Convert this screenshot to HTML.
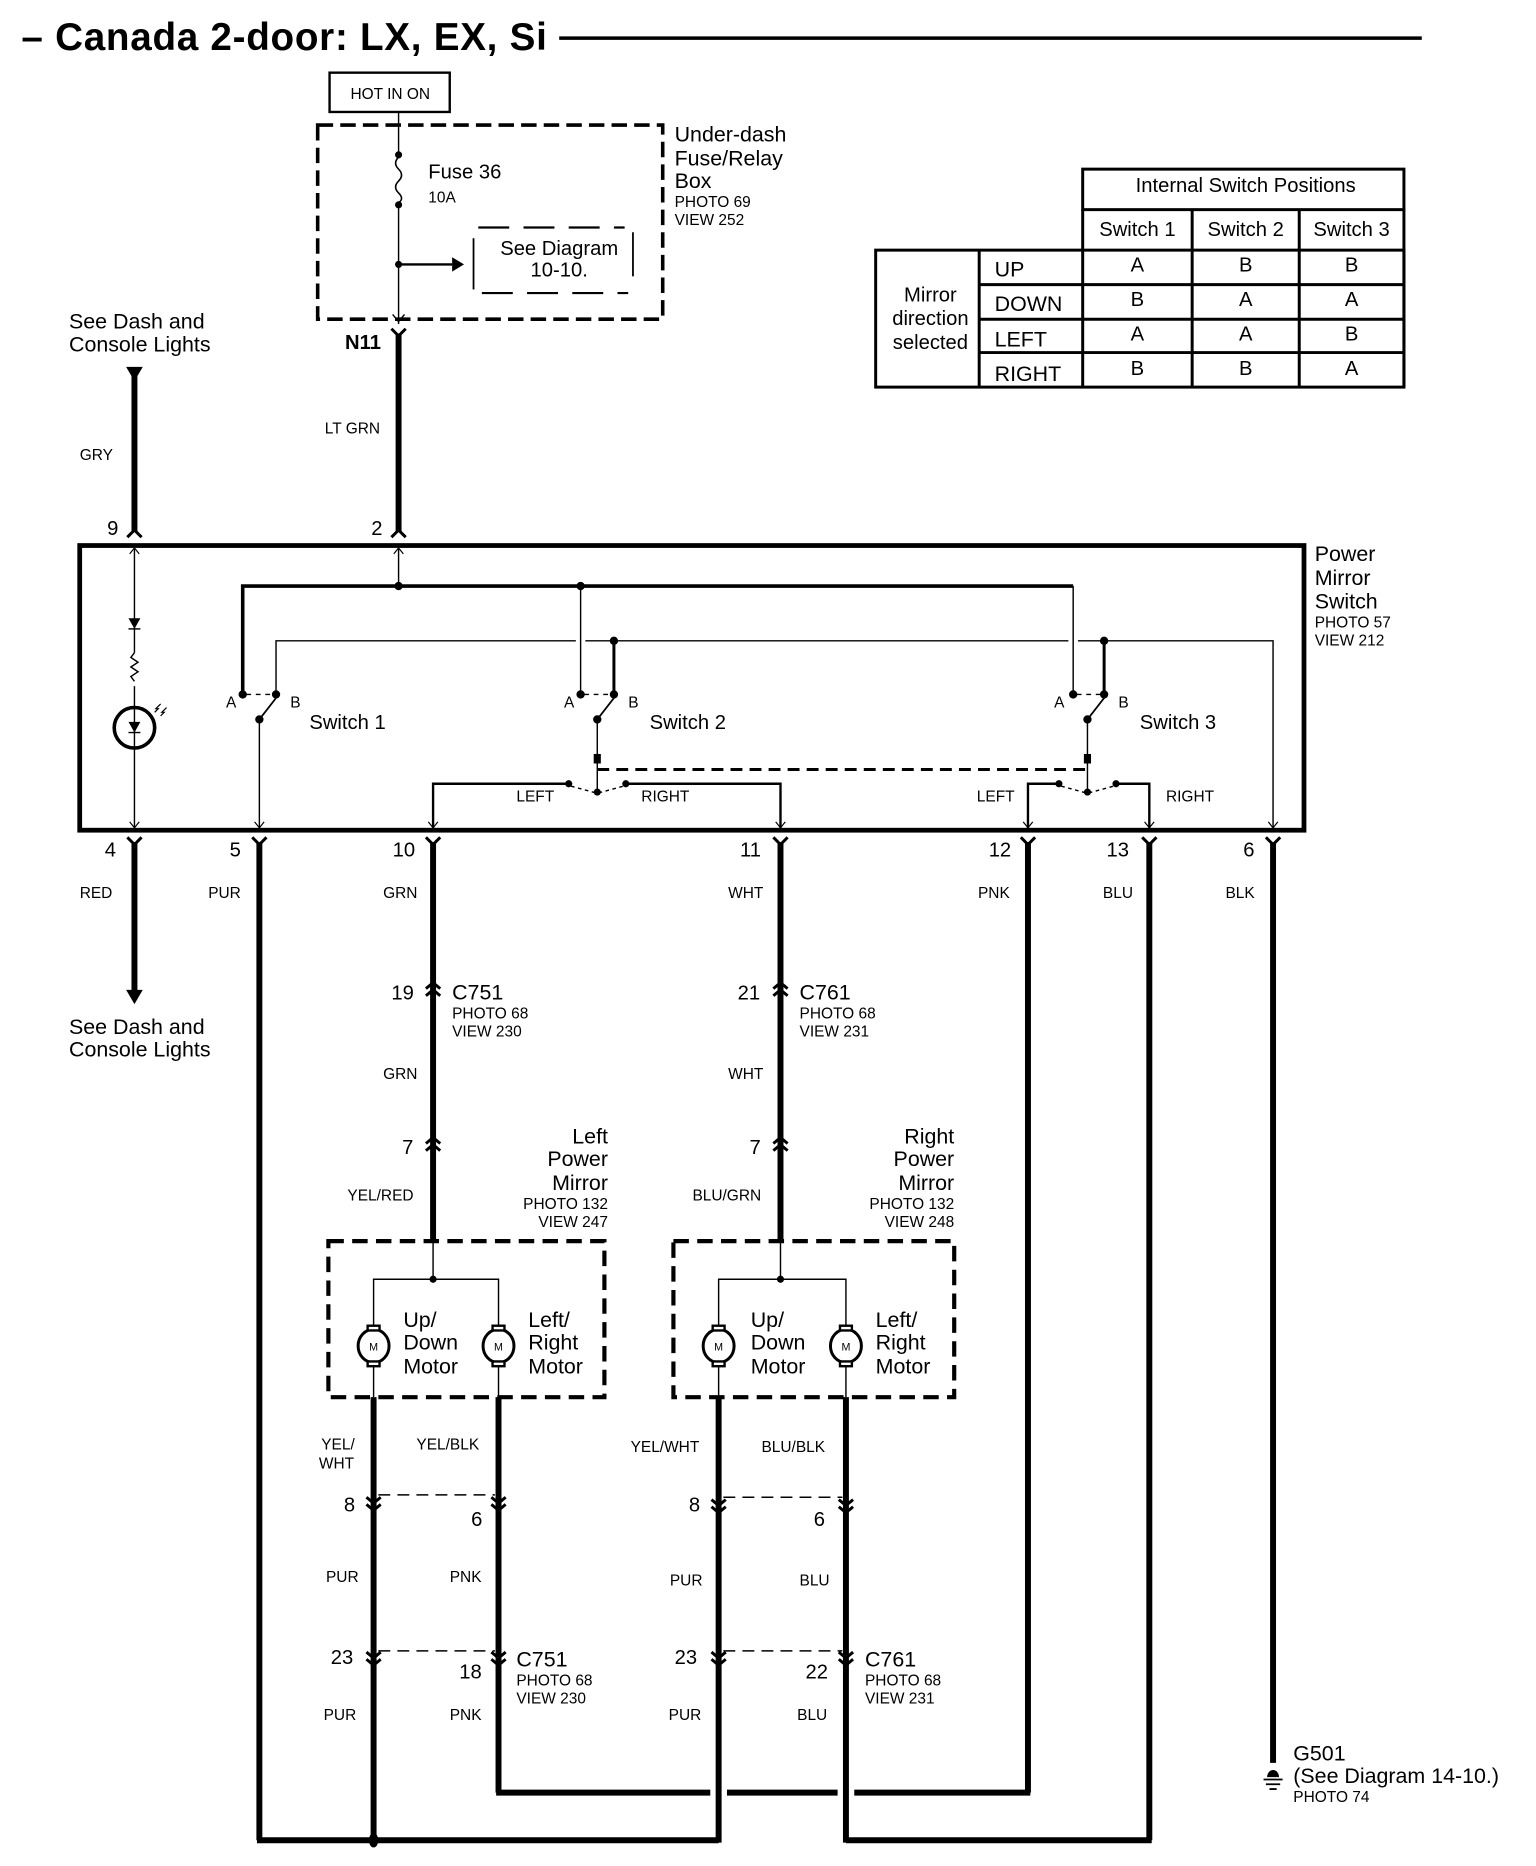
<!DOCTYPE html>
<html><head><meta charset="utf-8"><style>
html,body{margin:0;padding:0;background:#fff;}
svg{display:block;}
text{font-family:"Liberation Sans",Arial,sans-serif;fill:#000;}
.s13{font-size:13px;}
.s17{font-size:17px;}
.s18{font-size:18px;}
</style></head><body>
<svg width="1536" height="1866" viewBox="0 0 1291 1566.6" preserveAspectRatio="none" xmlns="http://www.w3.org/2000/svg">
<g fill="none" stroke="#000" stroke-linecap="butt">
<line x1="470" y1="32" x2="1195" y2="32" stroke-width="3"/>
<rect x="277" y="61" width="101" height="33" stroke-width="2"/>
<rect x="267" y="105" width="290" height="163" stroke-width="3" stroke-dasharray="13,6"/>
<line x1="335" y1="94" x2="335" y2="130" stroke-width="1.2"/>
<path d="M335,132 q-5,5 0,10 q5,5 0,10 q-5,5 0,10 q5,5 0,8" stroke-width="1.3"/>
<line x1="335" y1="172" x2="335" y2="272" stroke-width="1.2"/>
<line x1="335" y1="222" x2="380" y2="222" stroke-width="2"/>
<line x1="398" y1="200" x2="398" y2="243" stroke-width="1.5"/>
<line x1="532" y1="195" x2="532" y2="232" stroke-width="1.5"/>
<line x1="402" y1="191" x2="525" y2="191" stroke-width="1.8" stroke-dasharray="26,12"/>
<line x1="405" y1="246" x2="528" y2="246" stroke-width="1.8" stroke-dasharray="26,12"/>
<path d="M330,264 L335,270 L340,264" stroke-width="1.2"/>
<path d="M329,276 L335,282 L341,276" stroke-width="2.5"/>
<line x1="335" y1="280" x2="335" y2="446" stroke-width="5"/>
<path d="M329,451 L335,445 L341,451" stroke-width="2.5"/>
<line x1="113" y1="315" x2="113" y2="446" stroke-width="5"/>
<path d="M107,451 L113,445 L119,451" stroke-width="2.5"/>
<rect x="67" y="458" width="1029" height="239" stroke-width="4"/>
<line x1="113" y1="460" x2="113" y2="548" stroke-width="1.2"/>
<path d="M109,465 L113,460 L117,465" stroke-width="1"/>
<line x1="113" y1="576" x2="113" y2="695" stroke-width="1.2"/>
<path d="M109,690 L113,695 L117,690" stroke-width="1"/>
<path d="M113,548 l-3,4 l6,4 l-6,4 l6,4 l-6,4 l3,4" stroke-width="1.2"/>
<line x1="108" y1="528" x2="118" y2="528" stroke-width="1.2"/>
<circle cx="113" cy="611" r="17" stroke-width="3"/>
<line x1="108" y1="615" x2="118" y2="615" stroke-width="1.2"/>
<path d="M130,598 l3,-3 l-2,0 l4,-4 M135,601 l3,-3 l-2,0 l4,-4" stroke-width="1"/>
<line x1="335" y1="460" x2="335" y2="492" stroke-width="1.2"/>
<path d="M331,465 L335,460 L339,465" stroke-width="1"/>
<path d="M204,583 L204,492 L902,492" stroke-width="3"/>
<line x1="902" y1="492" x2="902" y2="583" stroke-width="1.2"/>
<line x1="488" y1="492" x2="488" y2="583" stroke-width="1.2"/>
<path d="M232,583 L232,538 L484,538" stroke-width="1.2"/>
<path d="M492,538 L898,538" stroke-width="1.2"/>
<path d="M906,538 L1070,538 L1070,695" stroke-width="1.2"/>
<path d="M1066,690 L1070,695 L1074,690" stroke-width="1"/>
<line x1="516" y1="538" x2="516" y2="583" stroke-width="2.5"/>
<line x1="928" y1="538" x2="928" y2="583" stroke-width="2.5"/>
<line x1="207" y1="583" x2="229" y2="583" stroke-width="1.2" stroke-dasharray="4,4"/>
<line x1="218" y1="604" x2="232" y2="586" stroke-width="1.5"/>
<line x1="218" y1="604" x2="218" y2="695" stroke-width="1.2"/>
<path d="M214,690 L218,695 L222,690" stroke-width="1"/>
<line x1="491" y1="583" x2="513" y2="583" stroke-width="1.2" stroke-dasharray="4,4"/>
<line x1="502" y1="604" x2="516" y2="586" stroke-width="1.5"/>
<line x1="502" y1="604" x2="502" y2="664" stroke-width="1.2"/>
<line x1="502" y1="646" x2="914" y2="646" stroke-width="2.5" stroke-dasharray="10,6"/>
<path d="M478,658 L364,658 L364,695" stroke-width="2"/>
<path d="M360,690 L364,695 L368,690" stroke-width="1"/>
<path d="M526,658 L656,658 L656,695" stroke-width="2"/>
<path d="M652,690 L656,695 L660,690" stroke-width="1"/>
<path d="M480,660 L502,666 L524,660" stroke-width="1.2" stroke-dasharray="3,3"/>
<line x1="905" y1="583" x2="925" y2="583" stroke-width="1.2" stroke-dasharray="4,4"/>
<line x1="914" y1="604" x2="928" y2="586" stroke-width="1.5"/>
<line x1="914" y1="604" x2="914" y2="664" stroke-width="1.2"/>
<path d="M890,658 L864,658 L864,695" stroke-width="2"/>
<path d="M860,690 L864,695 L868,690" stroke-width="1"/>
<path d="M938,658 L966,658 L966,695" stroke-width="2"/>
<path d="M962,690 L966,695 L970,690" stroke-width="1"/>
<path d="M892,660 L914,666 L936,660" stroke-width="1.2" stroke-dasharray="3,3"/>
<g stroke-width="2.5">
<path d="M107,703 L113,709 L119,703"/>
<path d="M212,703 L218,709 L224,703"/>
<path d="M358,703 L364,709 L370,703"/>
<path d="M650,703 L656,709 L662,703"/>
<path d="M858,703 L864,709 L870,703"/>
<path d="M960,703 L966,709 L972,703"/>
<path d="M1064,703 L1070,709 L1076,703"/>
</g>
<g stroke-width="5">
<line x1="113" y1="707" x2="113" y2="832"/>
<line x1="218" y1="707" x2="218" y2="1545"/>
<line x1="364" y1="707" x2="364" y2="1042"/>
<line x1="656" y1="707" x2="656" y2="1042"/>
<line x1="864" y1="707" x2="864" y2="1505"/>
<line x1="966" y1="707" x2="966" y2="1545"/>
<line x1="1070" y1="707" x2="1070" y2="1480"/>
<path d="M216,1545 L604,1545"/>
<path d="M711,1545 L968,1545"/>
<path d="M417,1505 L597,1505 M611,1505 L704,1505 M718,1505 L866,1505"/>
<line x1="314" y1="1173" x2="314" y2="1545"/>
<line x1="419" y1="1173" x2="419" y2="1505"/>
<line x1="604" y1="1173" x2="604" y2="1547"/>
<line x1="711" y1="1173" x2="711" y2="1547"/>
</g>
<g stroke-width="2.5">
<path d="M358,830 L364,825 L370,830 M358,836 L364,831 L370,836"/>
<path d="M650,830 L656,825 L662,830 M650,836 L656,831 L662,836"/>
<path d="M358,960 L364,955 L370,960 M358,966 L364,961 L370,966"/>
<path d="M650,960 L656,955 L662,960 M650,966 L656,961 L662,966"/>
<path d="M308,1257 L314,1262 L320,1257 M308,1263 L314,1268 L320,1263"/>
<path d="M413,1257 L419,1262 L425,1257 M413,1263 L419,1268 L425,1263"/>
<path d="M598,1259 L604,1264 L610,1259 M598,1265 L604,1270 L610,1265"/>
<path d="M705,1259 L711,1264 L717,1259 M705,1265 L711,1270 L717,1265"/>
<path d="M308,1387 L314,1392 L320,1387 M308,1393 L314,1398 L320,1393"/>
<path d="M413,1387 L419,1392 L425,1387 M413,1393 L419,1398 L425,1393"/>
<path d="M598,1387 L604,1392 L610,1387 M598,1393 L604,1398 L610,1393"/>
<path d="M705,1387 L711,1392 L717,1387 M705,1393 L711,1398 L717,1393"/>
</g>
<g stroke-width="1.2" stroke-dasharray="10,6">
<line x1="318" y1="1255" x2="416" y2="1255"/>
<line x1="318" y1="1386" x2="416" y2="1386"/>
<line x1="608" y1="1257" x2="708" y2="1257"/>
<line x1="608" y1="1386" x2="708" y2="1386"/>
</g>
<rect x="276" y="1042" width="232" height="131" stroke-width="3.5" stroke-dasharray="13,7"/>
<rect x="566" y="1042" width="236" height="131" stroke-width="3.5" stroke-dasharray="13,7"/>
<g stroke-width="1.2">
<line x1="364" y1="1042" x2="364" y2="1074"/>
<path d="M314,1173 L314,1074 L419,1074 L419,1173"/>
<line x1="656" y1="1042" x2="656" y2="1074"/>
<path d="M604,1173 L604,1074 L711,1074 L711,1173"/>
</g>
<g stroke-width="2.5" fill="#fff">
<ellipse cx="314" cy="1130" rx="13" ry="14"/>
<ellipse cx="419" cy="1130" rx="13" ry="14"/>
<ellipse cx="604" cy="1130" rx="13" ry="14"/>
<ellipse cx="711" cy="1130" rx="13" ry="14"/>
</g>
<g stroke-width="2" fill="#fff">
<rect x="309" y="1113" width="10" height="4"/><rect x="309" y="1143" width="10" height="4"/>
<rect x="414" y="1113" width="10" height="4"/><rect x="414" y="1143" width="10" height="4"/>
<rect x="599" y="1113" width="10" height="4"/><rect x="599" y="1143" width="10" height="4"/>
<rect x="706" y="1113" width="10" height="4"/><rect x="706" y="1143" width="10" height="4"/>
</g>
<path d="M1062,1494 L1078,1494 M1064,1498 L1076,1498 M1067,1502 L1073,1502" stroke-width="1.5"/>
<g stroke-width="2.5">
<rect x="910" y="142" width="270" height="34"/>
<line x1="910" y1="176" x2="910" y2="325"/>
<line x1="1002" y1="176" x2="1002" y2="325"/>
<line x1="1092" y1="176" x2="1092" y2="325"/>
<line x1="1180" y1="176" x2="1180" y2="325"/>
<rect x="736" y="210" width="444" height="115"/>
<line x1="823" y1="210" x2="823" y2="325"/>
<line x1="823" y1="239" x2="1180" y2="239"/>
<line x1="823" y1="268" x2="1180" y2="268"/>
<line x1="823" y1="296" x2="1180" y2="296"/>
</g>
</g>
<g fill="#000" stroke="none">
<path d="M106,308 L120,308 L113,320 Z"/>
<path d="M106,831 L120,831 L113,843 Z"/>
<path d="M380,216 L390,222 L380,228 Z"/>
<path d="M108,519 L118,519 L113,528 Z"/>
<path d="M108,606 L118,606 L113,615 Z"/>
<circle cx="335" cy="130" r="3"/><circle cx="335" cy="172" r="3"/><circle cx="335" cy="222" r="3"/>
<circle cx="335" cy="492" r="3.5"/><circle cx="488" cy="492" r="3.5"/>
<circle cx="516" cy="538" r="3.5"/><circle cx="928" cy="538" r="3.5"/>
<circle cx="204" cy="583" r="3.5"/><circle cx="232" cy="583" r="3.5"/><circle cx="218" cy="604" r="3.5"/>
<circle cx="488" cy="583" r="3.5"/><circle cx="516" cy="583" r="3.5"/><circle cx="502" cy="604" r="3.5"/>
<circle cx="902" cy="583" r="3.5"/><circle cx="928" cy="583" r="3.5"/><circle cx="914" cy="604" r="3.5"/>
<rect x="499" y="633" width="6" height="8"/><rect x="911" y="633" width="6" height="8"/>
<circle cx="478" cy="658" r="3"/><circle cx="526" cy="658" r="3"/><circle cx="502" cy="665" r="3"/>
<circle cx="890" cy="658" r="3"/><circle cx="938" cy="658" r="3"/><circle cx="914" cy="665" r="3"/>
<circle cx="364" cy="1074" r="3"/><circle cx="656" cy="1074" r="3"/>
<ellipse cx="314" cy="1545" rx="4" ry="6"/>
<path d="M1065,1492 a5,6 0 0 1 10,0 Z"/>
</g>
<text x="18" y="42" style="font-size:32.5px;font-weight:bold;letter-spacing:0.6px">– Canada 2-door: LX, EX, Si</text>
<text x="328" y="83" class="s13" text-anchor="middle">HOT IN ON</text>
<text x="360" y="150" class="s17">Fuse 36</text>
<text x="360" y="170" class="s13">10A</text>
<text x="470" y="214" class="s17" text-anchor="middle">See Diagram</text>
<text x="470" y="232" class="s17" text-anchor="middle">10-10.</text>
<text x="567" y="119" class="s18">Under-dash</text>
<text x="567" y="139" class="s18">Fuse/Relay</text>
<text x="567" y="158" class="s18">Box</text>
<text x="567" y="174" class="s13">PHOTO 69</text>
<text x="567" y="189" class="s13">VIEW 252</text>
<text x="58" y="276" class="s18">See Dash and</text>
<text x="58" y="295" class="s18">Console Lights</text>
<text x="290" y="293" class="s17" style="font-weight:bold">N11</text>
<text x="273" y="364" class="s13">LT GRN</text>
<text x="67" y="386" class="s13">GRY</text>
<text x="90" y="449" class="s17">9</text>
<text x="312" y="449" class="s17">2</text>
<text x="1105" y="471" class="s18">Power</text>
<text x="1105" y="491" class="s18">Mirror</text>
<text x="1105" y="511" class="s18">Switch</text>
<text x="1105" y="527" class="s13">PHOTO 57</text>
<text x="1105" y="542" class="s13">VIEW 212</text>
<text x="190" y="594" class="s13">A</text><text x="244" y="594" class="s13">B</text>
<text x="474" y="594" class="s13">A</text><text x="528" y="594" class="s13">B</text>
<text x="886" y="594" class="s13">A</text><text x="940" y="594" class="s13">B</text>
<text x="260" y="612" class="s17">Switch 1</text>
<text x="546" y="612" class="s17">Switch 2</text>
<text x="958" y="612" class="s17">Switch 3</text>
<text x="434" y="673" class="s13">LEFT</text>
<text x="539" y="673" class="s13">RIGHT</text>
<text x="821" y="673" class="s13">LEFT</text>
<text x="980" y="673" class="s13">RIGHT</text>
<text x="88" y="719" class="s17">4</text>
<text x="193" y="719" class="s17">5</text>
<text x="330" y="719" class="s17">10</text>
<text x="622" y="719" class="s17">11</text>
<text x="831" y="719" class="s17">12</text>
<text x="930" y="719" class="s17">13</text>
<text x="1045" y="719" class="s17">6</text>
<text x="67" y="754" class="s13">RED</text>
<text x="175" y="754" class="s13">PUR</text>
<text x="322" y="754" class="s13">GRN</text>
<text x="612" y="754" class="s13">WHT</text>
<text x="822" y="754" class="s13">PNK</text>
<text x="927" y="754" class="s13">BLU</text>
<text x="1030" y="754" class="s13">BLK</text>
<text x="58" y="868" class="s18">See Dash and</text>
<text x="58" y="887" class="s18">Console Lights</text>
<text x="329" y="839" class="s17">19</text>
<text x="380" y="839" class="s18">C751</text>
<text x="380" y="855" class="s13">PHOTO 68</text>
<text x="380" y="870" class="s13">VIEW 230</text>
<text x="620" y="839" class="s17">21</text>
<text x="672" y="839" class="s18">C761</text>
<text x="672" y="855" class="s13">PHOTO 68</text>
<text x="672" y="870" class="s13">VIEW 231</text>
<text x="322" y="906" class="s13">GRN</text>
<text x="612" y="906" class="s13">WHT</text>
<text x="338" y="969" class="s17">7</text>
<text x="630" y="969" class="s17">7</text>
<text x="292" y="1008" class="s13">YEL/RED</text>
<text x="582" y="1008" class="s13">BLU/GRN</text>
<g text-anchor="end">
<text x="511" y="960" class="s18">Left</text>
<text x="511" y="979" class="s18">Power</text>
<text x="511" y="999" class="s18">Mirror</text>
<text x="511" y="1015" class="s13">PHOTO 132</text>
<text x="511" y="1030" class="s13">VIEW 247</text>
<text x="802" y="960" class="s18">Right</text>
<text x="802" y="979" class="s18">Power</text>
<text x="802" y="999" class="s18">Mirror</text>
<text x="802" y="1015" class="s13">PHOTO 132</text>
<text x="802" y="1030" class="s13">VIEW 248</text>
</g>
<g style="font-size:9px" text-anchor="middle">
<text x="314" y="1134">M</text><text x="419" y="1134">M</text><text x="604" y="1134">M</text><text x="711" y="1134">M</text>
</g>
<text x="339" y="1114" class="s18">Up/</text>
<text x="339" y="1133" class="s18">Down</text>
<text x="339" y="1153" class="s18">Motor</text>
<text x="444" y="1114" class="s18">Left/</text>
<text x="444" y="1133" class="s18">Right</text>
<text x="444" y="1153" class="s18">Motor</text>
<text x="631" y="1114" class="s18">Up/</text>
<text x="631" y="1133" class="s18">Down</text>
<text x="631" y="1153" class="s18">Motor</text>
<text x="736" y="1114" class="s18">Left/</text>
<text x="736" y="1133" class="s18">Right</text>
<text x="736" y="1153" class="s18">Motor</text>
<text x="270" y="1217" class="s13">YEL/</text>
<text x="268" y="1233" class="s13">WHT</text>
<text x="350" y="1217" class="s13">YEL/BLK</text>
<text x="530" y="1219" class="s13">YEL/WHT</text>
<text x="640" y="1219" class="s13">BLU/BLK</text>
<text x="289" y="1269" class="s17">8</text>
<text x="396" y="1281" class="s17">6</text>
<text x="579" y="1269" class="s17">8</text>
<text x="684" y="1281" class="s17">6</text>
<text x="274" y="1328" class="s13">PUR</text>
<text x="378" y="1328" class="s13">PNK</text>
<text x="563" y="1331" class="s13">PUR</text>
<text x="672" y="1331" class="s13">BLU</text>
<text x="278" y="1397" class="s17">23</text>
<text x="386" y="1409" class="s17">18</text>
<text x="567" y="1397" class="s17">23</text>
<text x="677" y="1409" class="s17">22</text>
<text x="434" y="1399" class="s18">C751</text>
<text x="434" y="1415" class="s13">PHOTO 68</text>
<text x="434" y="1430" class="s13">VIEW 230</text>
<text x="727" y="1399" class="s18">C761</text>
<text x="727" y="1415" class="s13">PHOTO 68</text>
<text x="727" y="1430" class="s13">VIEW 231</text>
<text x="272" y="1444" class="s13">PUR</text>
<text x="378" y="1444" class="s13">PNK</text>
<text x="562" y="1444" class="s13">PUR</text>
<text x="670" y="1444" class="s13">BLU</text>
<text x="1087" y="1478" class="s18">G501</text>
<text x="1087" y="1497" class="s18">(See Diagram 14-10.)</text>
<text x="1087" y="1513" class="s13">PHOTO 74</text>
<text x="1047" y="161" class="s17" text-anchor="middle">Internal Switch Positions</text>
<g class="s17" text-anchor="middle">
<text x="956" y="198">Switch 1</text><text x="1047" y="198">Switch 2</text><text x="1136" y="198">Switch 3</text>
<text x="956" y="228">A</text><text x="1047" y="228">B</text><text x="1136" y="228">B</text>
<text x="956" y="257">B</text><text x="1047" y="257">A</text><text x="1136" y="257">A</text>
<text x="956" y="286">A</text><text x="1047" y="286">A</text><text x="1136" y="286">B</text>
<text x="956" y="315">B</text><text x="1047" y="315">B</text><text x="1136" y="315">A</text>
<text x="782" y="253">Mirror</text><text x="782" y="273">direction</text><text x="782" y="293">selected</text>
</g>
<g class="s18">
<text x="836" y="232">UP</text><text x="836" y="261">DOWN</text><text x="836" y="291">LEFT</text><text x="836" y="320">RIGHT</text>
</g>
</svg>
</body></html>
